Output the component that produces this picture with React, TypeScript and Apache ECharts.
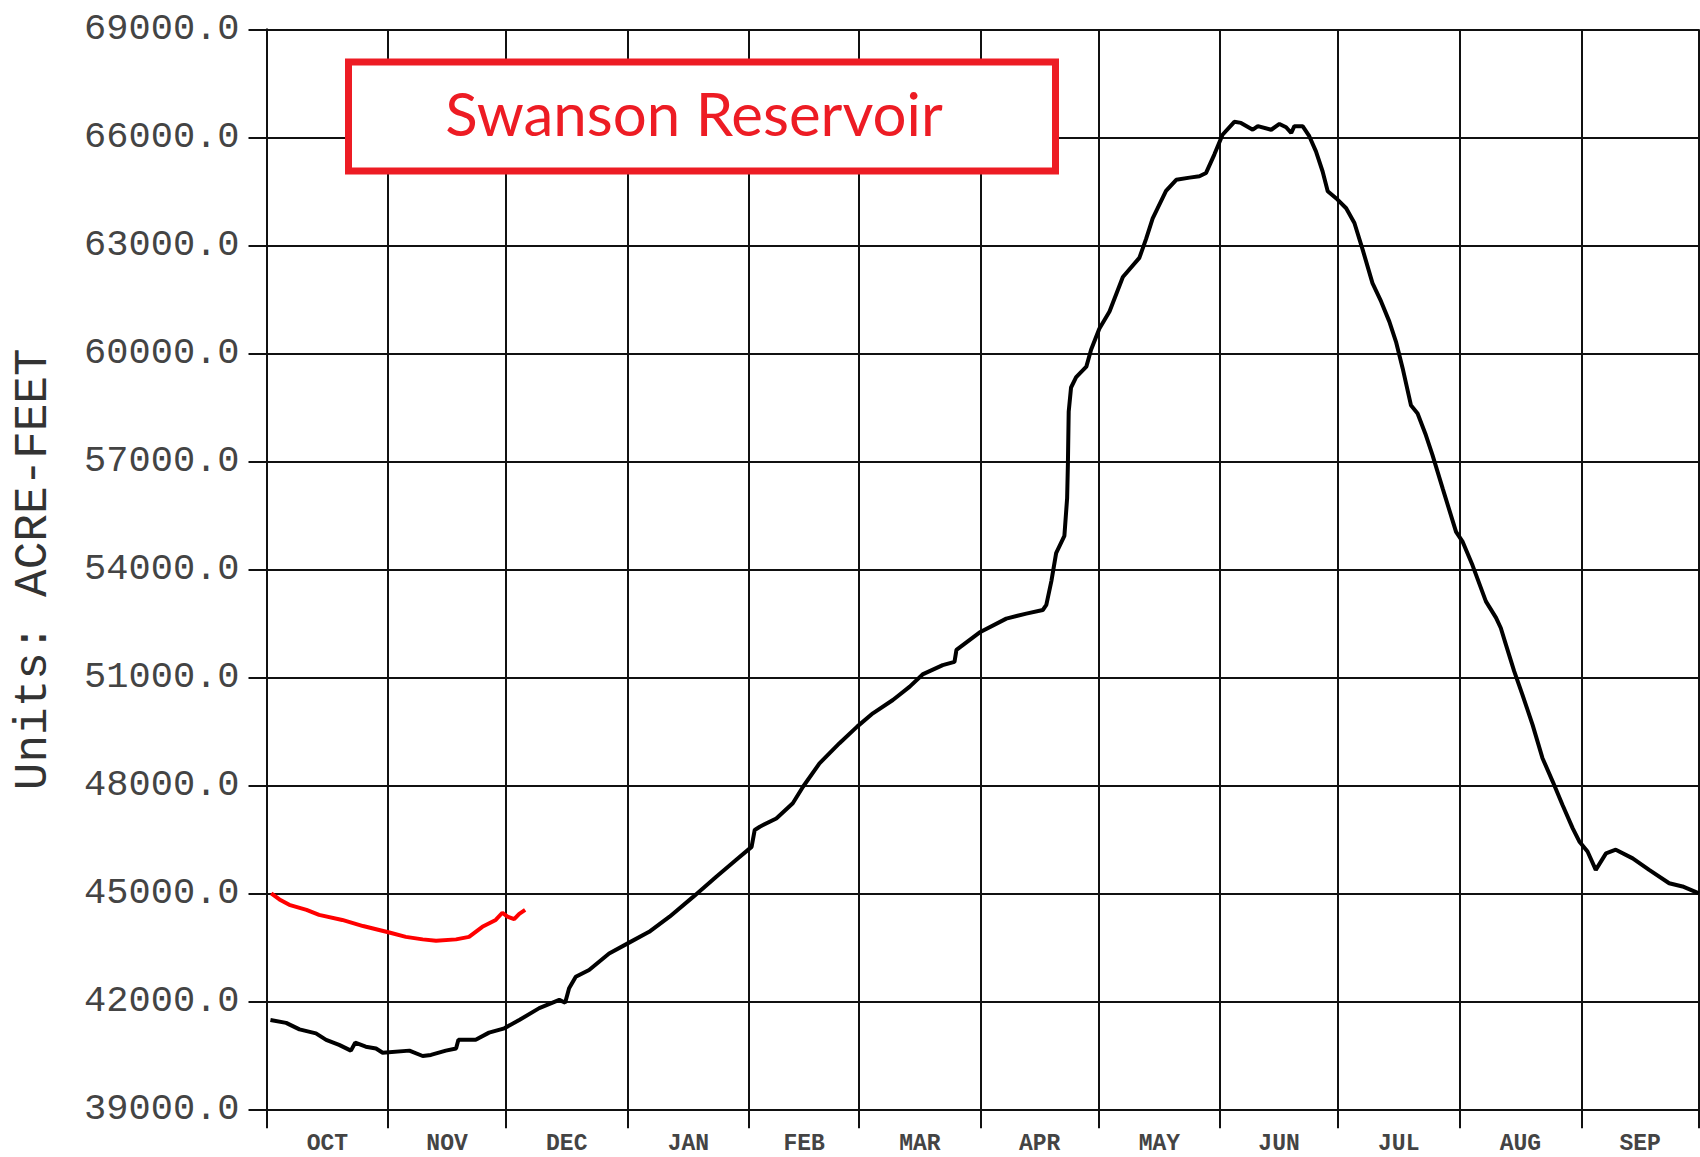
import React, { useEffect, useRef } from "react";
import * as echarts from "echarts";

// Water-year month labels and month boundaries (day of water year)
const monthLabels = ["OCT", "NOV", "DEC", "JAN", "FEB", "MAR", "APR", "MAY", "JUN", "JUL", "AUG", "SEP"];
const monthBoundaries = [0, 31, 61, 92, 123, 151, 182, 212, 243, 273, 304, 335, 365];

// Y axis
const yMin = 39000;
const yMax = 69000;
const yInterval = 3000;

// Prior water year storage (black)
const priorYearDays = [
  1, 5, 8.4, 12.6, 15.2, 18.5, 21.5, 22.6, 25.3, 27.9, 29.6, 36.4, 39.8, 41.9, 45.7, 48.3, 48.9, 53.3,
  56.7, 60.6, 64.4, 69.5, 74.6, 76.1, 77.1, 78.8, 82.2, 87.3, 92.4, 97.5, 102.7, 108.7, 114.6, 119.7,
  123.6, 124.4, 125.7, 129.9, 134.1, 136.7, 140.9, 146, 150.5, 154.5, 159.6, 163.9, 167.3, 172.3, 175.3,
  175.8, 181.9, 188.5, 193.6, 197.8, 198.7, 200, 201.2, 203.3, 204, 204.2, 204.4, 205, 206.3, 208.9,
  210.1, 212.2, 214.8, 218.2, 222.4, 224.1, 225.8, 229.2, 231.8, 235.2, 237.7, 239.4, 241.5, 243.6,
  246.6, 248.3, 251.3, 252.6, 256, 258.1, 259.8, 261.1, 261.9, 264, 265.7, 267.4, 269.1, 270.4, 272.9,
  275.1, 277.2, 279.3, 281.8, 284, 286.1, 287.8, 289.5, 291.6, 293.3, 295.4, 297.1, 299.7, 303.1, 304.8,
  307.3, 310.7, 313.3, 314.5, 315.8, 317.9, 320, 322.6, 325.1, 327.7, 330.2, 332.8, 334.5, 336.6, 338.7,
  341.3, 343.8, 348.1, 352.3, 357.4, 360.8, 365,
];
const priorYearStorage = [
  41480, 41400, 41220, 41110, 40930, 40790, 40630, 40850, 40740, 40690, 40570, 40630, 40480, 40510, 40630,
  40690, 40930, 40930, 41130, 41250, 41480, 41810, 42040, 41960, 42360, 42680, 42870, 43330, 43630, 43930,
  44350, 44900, 45460, 45930, 46290, 46760, 46850, 47080, 47500, 47960, 48610, 49170, 49630, 50000, 50370,
  50740, 51090, 51340, 51430, 51760, 52260, 52630, 52770, 52870, 53010, 53680, 54450, 54930, 55980, 56940,
  58380, 59050, 59340, 59630, 60100, 60680, 61160, 62120, 62650, 63170, 63750, 64510, 64820, 64880, 64920,
  65010, 65520, 66070, 66430, 66400, 66210, 66310, 66210, 66370, 66280, 66120, 66310, 66310, 66030, 65610,
  65050, 64500, 64270, 64030, 63620, 62880, 61950, 61440, 60880, 60320, 59580, 58560, 58330, 57730, 57170,
  56240, 55040, 54760, 54110, 53110, 52650, 52370, 51910, 51170, 50520, 49680, 48760, 48110, 47460, 46810,
  46440, 46160, 45650, 46110, 46210, 45970, 45650, 45280, 45190, 45000,
];

// Current water year storage (red)
const currentYearDays = [
  1.2, 3.3, 5.8, 10.2, 13.4, 19.3, 24.6, 28.7, 31.3, 35.5, 39.8, 43.2, 48.3, 51.6, 55, 58.4, 60.1, 61.4,
  63.1, 64.4, 65.9,
];
const currentYearStorage = [
  45000, 44830, 44680, 44540, 44400, 44260, 44090, 43980, 43910, 43790, 43720, 43680, 43720, 43790, 44070,
  44260, 44460, 44350, 44280, 44430, 44540,
];

const titleText = "Swanson Reservoir";
const yAxisName = "Units: ACRE-FEET";

export default function App() {
  const ref = useRef<HTMLDivElement>(null);

  useEffect(() => {
    if (!ref.current) return;
    const chart = echarts.init(ref.current, undefined, { renderer: "svg" });

    const monthMids = monthLabels.map((_, i) => (monthBoundaries[i] + monthBoundaries[i + 1]) / 2);
    const priorData = priorYearDays.map((d, i) => [d, priorYearStorage[i]]);
    const currentData = currentYearDays.map((d, i) => [d, currentYearStorage[i]]);

    const mono = "'Liberation Mono', 'Courier New', monospace";

    chart.setOption({
      animation: false,
      backgroundColor: "#ffffff",
      grid: {
        left: 266.5,
        right: 1,
        top: 29.3,
        bottom: 47.7,
        containLabel: false,
        outerBoundsMode: "none",
      },
      xAxis: {
        type: "value",
        min: 0,
        max: 365,
        axisLine: { show: true, lineStyle: { color: "#111", width: 2 } },
        axisTick: {
          show: true,
          customValues: monthBoundaries,
          length: 19,
          inside: false,
          lineStyle: { color: "#111", width: 2 },
        },
        axisLabel: {
          customValues: monthMids,
          formatter: (v: number) => {
            const idx = monthMids.findIndex((m) => Math.abs(m - v) < 0.01);
            return idx >= 0 ? monthLabels[idx] : "";
          },
          margin: 23,
          fontFamily: mono,
          fontSize: 23,
          lineHeight: 23,
          fontWeight: "bold",
          color: "#444",
        },
        splitLine: { show: true, lineStyle: { color: "#111", width: 2 } },
      },
      yAxis: {
        type: "value",
        min: yMin,
        max: yMax,
        interval: yInterval,
        name: yAxisName,
        nameLocation: "middle",
        nameGap: 210,
        nameTextStyle: { fontFamily: mono, fontSize: 46, color: "#333" },
        axisLine: { show: true, lineStyle: { color: "#111", width: 2 } },
        axisTick: { show: true, length: 18, inside: false, lineStyle: { color: "#111", width: 2 } },
        axisLabel: {
          formatter: (v: number) => v.toFixed(1),
          margin: 27,
          fontFamily: mono,
          fontSize: 37,
          color: "#444",
        },
        splitLine: { show: true, lineStyle: { color: "#111", width: 2 } },
      },
      series: [
        {
          name: "Prior year",
          type: "line",
          data: priorData,
          showSymbol: false,
          symbol: "none",
          lineStyle: { color: "#000", width: 4 },
          z: 3,
        },
        {
          name: "Current year",
          type: "line",
          data: currentData,
          showSymbol: false,
          symbol: "none",
          lineStyle: { color: "#ff0000", width: 4 },
          z: 4,
        },
      ],
      graphic: [
        {
          type: "rect",
          z: 100,
          shape: { x: 348.5, y: 62, width: 707, height: 109 },
          style: { fill: "#ffffff", stroke: "#ED1C24", lineWidth: 7 },
        },
        {
          type: "text",
          z: 101,
          x: 694,
          y: 113,
          style: {
            text: titleText,
            fill: "#ED1C24",
            font: "60px Lato, 'Open Sans', sans-serif",
            textAlign: "center",
            textVerticalAlign: "middle",
          },
        },
      ],
    });

    return () => {
      chart.dispose();
    };
  }, []);

  return (
    <div
      ref={ref}
      style={{ position: "fixed", left: 0, top: 0, width: 1700, height: 1157, background: "#fff" }}
    />
  );
}
